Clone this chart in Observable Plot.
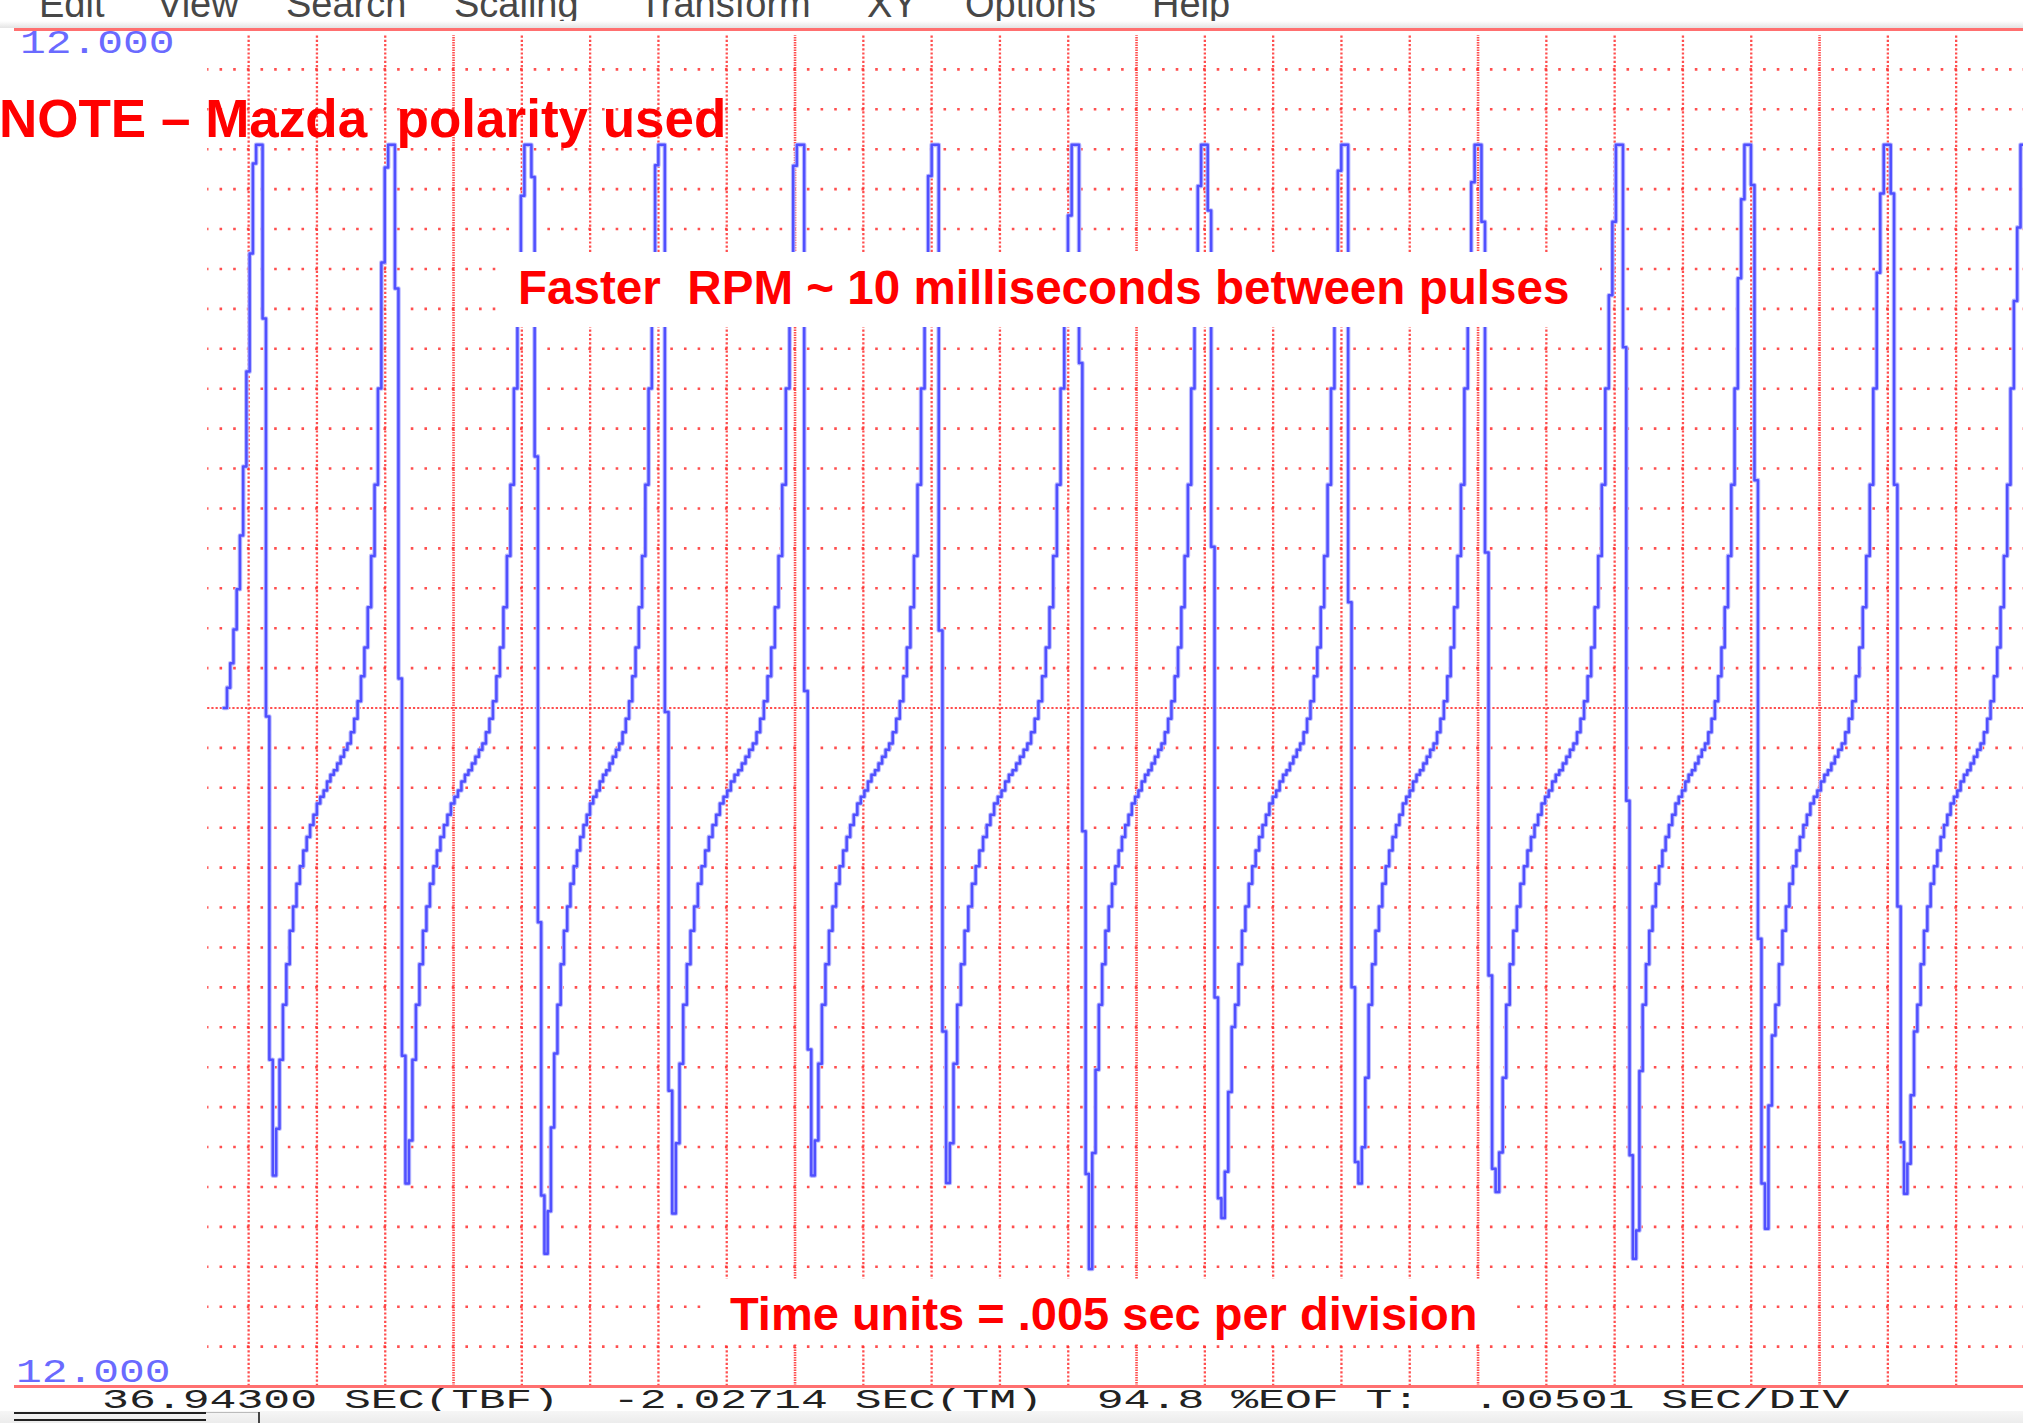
<!DOCTYPE html>
<html>
<head>
<meta charset="utf-8">
<script src="https://cdn.jsdelivr.net/npm/d3@7"></script>
<script src="https://cdn.jsdelivr.net/npm/@observablehq/plot@0.6"></script>
<style>
  html, body { margin: 0; padding: 0; background: #fff; overflow: hidden; }
  #wrap { position: relative; width: 2023px; height: 1423px; overflow: hidden; background: #fff; }
  #chart { position: absolute; left: 0; top: 0; }
  .menu { position: absolute; top: 0; left: 0; width: 2023px; height: 22px; overflow: hidden; }
  .menu span { position: absolute; top: -15px; font: 38px/38px "Liberation Sans", Arial, sans-serif; color: #474747; white-space: pre; }
  .shade { position: absolute; left: 0; top: 21px; width: 2023px; height: 7px; background: linear-gradient(#ffffff, #e4e4e4); }
  .ann { position: absolute; font-family: "Liberation Sans", Arial, sans-serif; font-weight: bold; color: #ff0000; white-space: pre; }
  .box { position: absolute; background: #fff; }
  .mono { position: absolute; font-family: "Liberation Mono", "DejaVu Sans Mono", monospace; white-space: pre; transform-origin: 0 0; }
  .bottombar { position: absolute; left: 0; top: 1411px; width: 2023px; height: 12px; background: linear-gradient(#f6f6f6, #ececec); }
  .hl { position: absolute; height: 2px; background: #222; }
</style>
</head>
<body>
<div id="wrap">
  <div id="chart"></div>
  <div class="menu" id="menu"></div>
  <div class="shade"></div>

  <div class="mono" style="left:20px;top:27.7px;font-size:33px;line-height:33px;color:#6a6aff;transform:scaleX(1.3);">12.000</div>
  <div class="mono" style="left:16px;top:1356.7px;font-size:33px;line-height:33px;color:#6a6aff;transform:scaleX(1.3);">12.000</div>

  <div class="ann" style="left:-1px;top:92px;font-size:53px;line-height:53px;">NOTE – Mazda  polarity used</div>

  <div class="box" style="left:496px;top:252px;width:1104px;height:75px;">
    <div class="ann" style="left:22px;top:11.7px;font-size:47.6px;line-height:47.6px;">Faster  RPM ~ 10 milliseconds between pulses</div>
  </div>

  <div class="box" style="left:701px;top:1279px;width:814px;height:65px;">
    <div class="ann" style="left:29px;top:11.2px;font-size:47px;line-height:47px;">Time units = .005 sec per division</div>
  </div>

  <div class="mono" style="left:102px;top:1386.5px;font-size:28px;line-height:28px;color:#222;transform:scaleX(1.6);">36.94300 SEC(TBF)  -2.02714 SEC(TM)  94.8 %EOF T:  .00501 SEC/DIV</div>

  <div class="bottombar"></div>
  <div class="hl" style="left:14px;top:1412px;width:192px;"></div>
  <div class="hl" style="left:14px;top:1419px;width:192px;"></div>
  <div class="hl" style="left:206px;top:1412px;width:52px;background:#bbb;height:1px;"></div>
  <div style="position:absolute;left:258px;top:1412px;width:2px;height:11px;background:#444;"></div>
</div>

<script>
// ---------------- Data ----------------
// Time in milliseconds (0 = a major vertical grid line), voltage in volts.
const xDomain = [-32.14, 114.93];
const yDomain = [-12, 12];

// Partial pulse at the left edge: samples rising to the first top
const leadStart = -16.82;
const leadIn = [0.0, 0.36, 0.79, 1.39, 2.10, 3.05, 4.27, 5.95, 8.04, 9.63, 9.96, 9.96];

// Time at which each pulse drops from its top plateau (ms)
const dropTimes = [-13.98, -4.29, 5.70, 15.47, 25.67, 35.52, 45.79, 55.21, 65.49, 75.25, 85.61, 94.98, 105.21, 115.2];

// Samples of each pulse from the drop through the negative spike
const fallSeqs = [
  [6.89, -0.15, -6.22, -8.27, -7.44, -6.22],
  [7.42, 0.52, -6.15, -8.41, -7.65, -6.22],
  [9.39, 4.45, -3.79, -8.62, -9.65, -8.90, -7.42, -6.11],
  [-0.07, -6.77, -8.94, -7.70, -6.29],
  [0.30, -6.04, -8.27, -7.65, -6.29],
  [1.37, -5.72, -8.40, -7.70, -6.29],
  [6.10, -2.18, -8.24, -9.92, -7.87, -6.40],
  [8.80, 2.85, -5.12, -8.67, -9.02, -8.20, -6.79, -5.64],
  [1.87, -4.94, -8.03, -8.41, -7.77, -6.54],
  [8.60, 2.75, -4.73, -8.15, -8.56, -7.86, -6.54],
  [6.38, -1.64, -7.91, -9.74, -9.24, -6.42],
  [9.25, 4.03, -4.08, -8.41, -9.21, -7.03, -5.79],
  [9.10, 3.95, -3.51, -7.68, -8.59, -8.06, -6.85, -5.72]
];

// Stepped recovery after the spike (sampled values)
const riseSeq = [-5.25, -4.53, -3.94, -3.51, -3.11, -2.80, -2.52, -2.28, -2.07, -1.89,
  -1.69, -1.57, -1.46, -1.30, -1.18, -1.10, -0.98, -0.86, -0.74, -0.63,
  -0.43, -0.19, 0.12, 0.56, 1.07, 1.78, 2.69, 3.95, 5.65];

// Last samples before each next top
const approachSeqs = [
  [7.88, 9.56], [7.60, 9.06], [7.90, 9.60], [7.90, 9.59], [7.80, 9.41],
  [7.40, 8.71], [7.70, 9.23], [7.90, 9.50], [7.80, 9.30], [7.30, 8.60],
  [7.60, 9.00], [7.70, 9.10], [7.20, 8.50]
];

// Flat (clipped) top of every pulse
const topSeq = [9.96, 9.96];

// Grid
const vGridMinor = [-15, -10, -5, 5, 10, 15, 20, 30, 35, 40, 45, 55, 60, 65, 70, 80, 85, 90, 95, 105, 110];
const vGridMajor = [0, 25, 50, 75, 100];
const hGridSteps = d3.range(-16, 17).filter(k => k !== 0);

// Menu bar labels and their left positions
const menuLabels = ["Edit", "View", "Search", "Scaling", "Transform", "XY", "Options", "Help"];
const menuLefts = [39, 157, 286, 454, 639, 867, 965, 1152];

// ---------------- Build the trace ----------------
const samples = [];
function pushRun(values, t0, t1) {
  const dt = (t1 - t0) / values.length;
  values.forEach((v, i) => samples.push({t: t0 + i * dt, v}));
}
pushRun(leadIn, leadStart, dropTimes[0]);
fallSeqs.forEach((fs, k) => {
  pushRun([...fs, ...riseSeq, ...approachSeqs[k], ...topSeq], dropTimes[k], dropTimes[k + 1]);
});
samples.push({t: dropTimes[dropTimes.length - 1], v: topSeq[topSeq.length - 1]});

const hGrid = hGridSteps.map(k => k * 12 / 17);
const gridColor = "#ff3030";

const chart = Plot.plot({
  width: 2023,
  height: 1392,
  marginLeft: 14,
  marginRight: 0,
  marginTop: 29,
  marginBottom: 6,
  x: {domain: xDomain, axis: null},
  y: {domain: yDomain, axis: null},
  style: {background: "transparent"},
  marks: [
    Plot.ruleY(hGrid, {x1: -18, x2: xDomain[1], stroke: gridColor, strokeOpacity: 0.85, strokeWidth: 2.6,
      strokeDasharray: "2.6,11.06", strokeDashoffset: 1.3}),
    Plot.ruleY([0], {x1: -18, x2: xDomain[1], stroke: gridColor, strokeOpacity: 0.85, strokeWidth: 2.2,
      strokeDasharray: "2.2,2"}),
    Plot.ruleX(vGridMinor, {y1: yDomain[0], y2: 11.89, stroke: gridColor, strokeOpacity: 0.85, strokeWidth: 2.3,
      strokeDasharray: "2.2,2"}),
    Plot.ruleX(vGridMajor, {y1: yDomain[0], y2: 11.89, stroke: gridColor, strokeOpacity: 0.85, strokeWidth: 2.6,
      strokeDasharray: "1.6,0.9"}),
    Plot.ruleY(yDomain, {stroke: "#ff7070", strokeWidth: 3}),
    Plot.line(samples, {x: "t", y: "v", curve: "step-after", stroke: "#bdbdff", strokeWidth: 4.6, clip: true}),
    Plot.line(samples, {x: "t", y: "v", curve: "step-after", stroke: "#5050ff", strokeWidth: 2.5, clip: true})
  ]
});
document.getElementById("chart").appendChild(chart);

const menu = document.getElementById("menu");
menuLabels.forEach((label, i) => {
  const s = document.createElement("span");
  s.textContent = label;
  s.style.left = menuLefts[i] + "px";
  menu.appendChild(s);
});
</script>
</body>
</html>
